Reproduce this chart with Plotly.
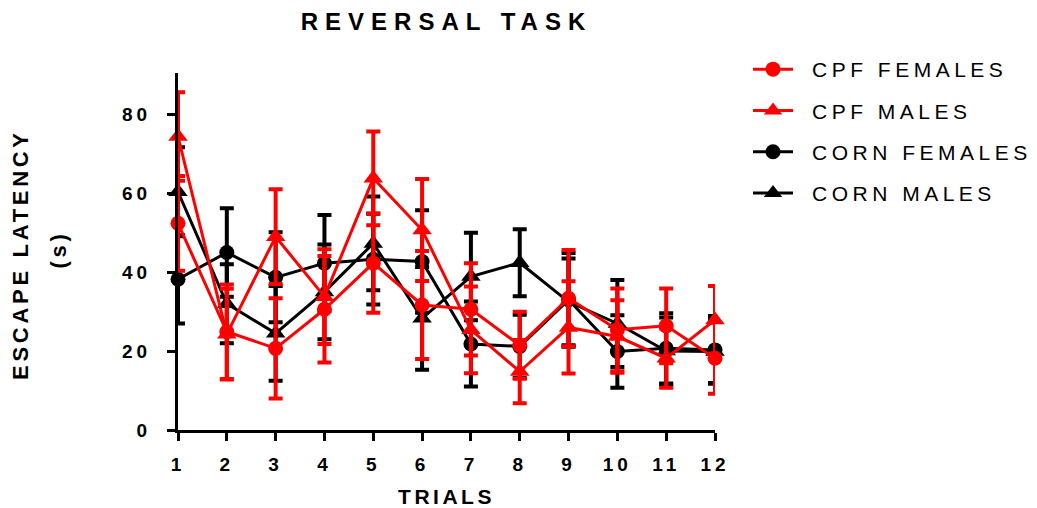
import plotly.graph_objects as go

# Reversal task: mean escape latency (s) per trial, with SEM
trials = list(range(1, 13))

cpf_females = [52.4, 24.9, 20.7, 30.6, 42.3, 31.7, 30.6, 21.5, 33.4, 25.4, 26.4, 18.2]
cpf_females_sem = [12.0, 12.0, 12.7, 13.5, 12.6, 13.7, 11.7, 8.5, 12.2, 10.5, 9.5, 9.0]

cpf_males = [74.4, 24.3, 49.0, 33.8, 63.8, 50.7, 25.4, 14.8, 26.0, 23.7, 18.2, 27.9]
cpf_males_sem = [11.2, 11.5, 12.0, 12.0, 11.9, 12.9, 11.0, 8.0, 11.7, 9.2, 7.5, 8.6]

corn_females = [38.2, 45.0, 38.7, 42.3, 43.3, 42.7, 21.8, 21.2, 33.0, 19.9, 20.7, 20.3]
corn_females_sem = [11.2, 11.2, 11.4, 12.2, 11.5, 13.0, 10.8, 8.0, 11.9, 9.2, 8.9, 8.6]

corn_males = [60.4, 32.0, 24.5, 35.0, 47.3, 28.3, 38.9, 42.4, 32.5, 27.0, 20.0, 19.9]
corn_males_sem = [11.3, 10.0, 12.0, 12.0, 11.9, 13.0, 11.1, 8.5, 11.0, 11.0, 8.5, 8.0]

y_ticks = [0, 20, 40, 60, 80]

RED = "#FF0000"
BLACK = "#000000"
FONT = "Liberation Sans, Arial, sans-serif"

# (name, values, sem, colour, symbol, legend rank); black groups drawn first, red on top
series = [
    ("CORN FEMALES", corn_females, corn_females_sem, BLACK, "circle", 3),
    ("CORN MALES", corn_males, corn_males_sem, BLACK, "triangle-up", 4),
    ("CPF MALES", cpf_males, cpf_males_sem, RED, "triangle-up", 2),
    ("CPF FEMALES", cpf_females, cpf_females_sem, RED, "circle", 1),
]

fig = go.Figure()
for name, vals, sem, col, sym, rank in series:
    fig.add_trace(go.Scatter(
        x=trials, y=vals, name=name, mode="lines+markers",
        line=dict(color=col, width=3),
        marker=dict(color=col, symbol=sym, size=15 if sym == "circle" else 17,
                    line=dict(width=0)),
        error_y=dict(type="data", array=sem, visible=True, color=col,
                     thickness=4, width=7),
        cliponaxis=False, legendrank=rank, legendgroup=name,
    ))

W, H = 1037, 508
ML, MR, MT, MB = 178, 322, 73, 78
plot_w = W - ML - MR
plot_h = H - MT - MB

def px_to_paper_x(px):
    return (px - ML) / plot_w

def px_to_paper_y(py):
    return (H - MB - py) / plot_h

fig.update_layout(
    width=W, height=H,
    margin=dict(l=ML, r=MR, t=MT, b=MB, pad=0, autoexpand=False),
    paper_bgcolor="white", plot_bgcolor="white",
    font=dict(family=FONT, color=BLACK),
    title=dict(text="REVERSAL TASK", x=0.5, xref="paper", xanchor="center",
               y=1 - 22 / H, yref="container", yanchor="middle",
               font=dict(size=24, family=FONT, weight="bold", color=BLACK)),
    showlegend=True,
    legend=dict(x=px_to_paper_x(748), xanchor="left", y=px_to_paper_y(49),
                yanchor="top", yref="paper",
                font=dict(size=21, family=FONT, color=BLACK),
                tracegroupgap=11, itemwidth=40, bgcolor="rgba(0,0,0,0)"),
    xaxis=dict(range=[1, 12], tickvals=trials, ticktext=[str(t) for t in trials],
               showline=True, linecolor=BLACK, linewidth=3, mirror=False,
               ticks="outside", ticklen=8, tickwidth=3, tickcolor=BLACK,
               ticklabelstandoff=7, automargin=False,
               tickfont=dict(size=19, family=FONT, weight="bold", color=BLACK),
               showgrid=False, zeroline=False,
               title=dict(text="TRIALS", standoff=26,
                          font=dict(size=21, family=FONT, weight="bold", color=BLACK))),
    yaxis=dict(range=[0, 90.5], tickvals=y_ticks,
               showline=True, linecolor=BLACK, linewidth=3,
               ticks="outside", ticklen=8, tickwidth=3, tickcolor=BLACK,
               ticklabelstandoff=12, automargin=False,
               tickfont=dict(size=19, family=FONT, weight="bold", color=BLACK),
               showgrid=False, zeroline=False),
    annotations=[
        dict(text="ESCAPE LATENCY", xref="paper", yref="paper",
             x=px_to_paper_x(20), y=px_to_paper_y(255),
             xanchor="center", yanchor="middle", textangle=-90, showarrow=False,
             font=dict(size=22, family=FONT, weight="bold", color=BLACK)),
        dict(text="(s)", xref="paper", yref="paper",
             x=px_to_paper_x(58), y=px_to_paper_y(250),
             xanchor="center", yanchor="middle", textangle=-90, showarrow=False,
             font=dict(size=22, family=FONT, weight="bold", color=BLACK)),
    ],
)

# Letter spacing for the wide-tracked text; legend labels pushed right of their symbols
post = """
var gd = document.getElementById('{plot_id}');
function track() {
  gd.querySelectorAll('.gtitle').forEach(function(e){ e.style.letterSpacing = '7px'; });
  gd.querySelectorAll('.legendtext').forEach(function(e){
    e.style.letterSpacing = '4.5px';
    e.setAttribute('dx', '14');
  });
  gd.querySelectorAll('.legend [clip-path]').forEach(function(e){ e.removeAttribute('clip-path'); });
  gd.querySelectorAll('.annotation-text').forEach(function(e){ e.style.letterSpacing = '3.7px'; });
  gd.querySelectorAll('.xtitle').forEach(function(e){ e.style.letterSpacing = '3.5px'; });
  gd.querySelectorAll('.xtick text, .ytick text').forEach(function(e){ e.style.letterSpacing = '4px'; });
}
track();
gd.on('plotly_afterplot', track);
"""

fig.write_html("out.html", post_script=post)
